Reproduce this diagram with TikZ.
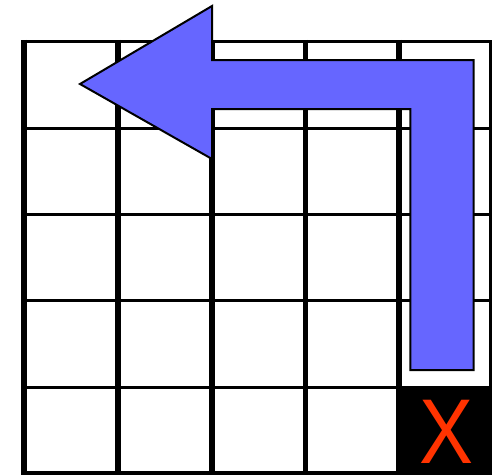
\documentclass[tikz,border=0pt]{standalone}
\usepackage{fontspec}
\setmainfont{Liberation Sans}
\definecolor{arrowblue}{HTML}{6666FF}
\definecolor{xred}{HTML}{FF3300}
\tikzset{
  vline/.style={line width=5.5pt, line cap=butt},
  hline/.style={line width=3.3pt, line cap=butt},
  bigarrow/.style={draw=black, line width=2pt, fill=arrowblue, line join=miter},
  marklabel/.style={text=xred, font=\fontsize{92}{92}\selectfont, inner sep=0pt, xscale=0.88}
}
\begin{document}
\begin{tikzpicture}[x=1pt,y=-1pt]
\useasboundingbox (0,0) rectangle (492,474);
\clip (0,0) rectangle (492,474);
% black cell
\fill[black] (399,386) rectangle (492,474);
% grid
\foreach \yy in {41.5,128.3,214.5,300.3,387.5,473}
  \draw[hline] (21.25,\yy) -- (494,\yy);
\foreach \xx in {24,118,212,305.5,399,491.5}
  \draw[vline] (\xx,39.8) -- (\xx,476);
% X
\node[marklabel] (xmark) at (446,432.2) {X};
% arrow
\draw[bigarrow] (80,84) -- (212,6) -- (212,60) -- (473.5,60) -- (473.5,370)
  -- (410.3,370) -- (410.3,109) -- (212,109) -- (212,159) -- cycle;
\end{tikzpicture}
\end{document}
